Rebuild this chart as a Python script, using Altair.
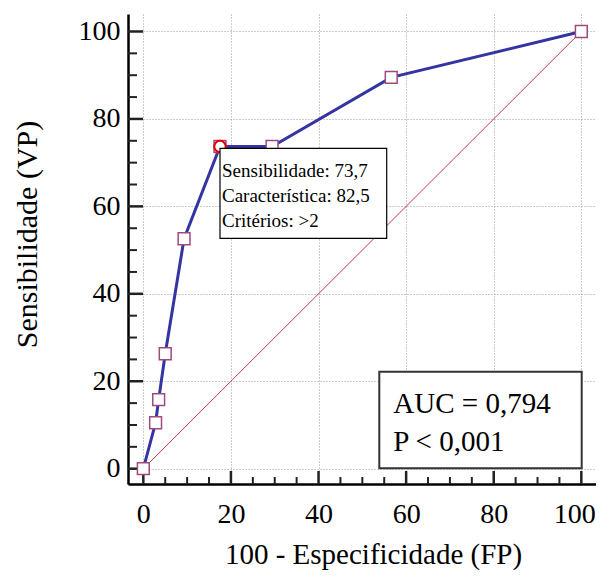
import altair as alt
import pandas as pd

# ---- data ----
fp = [0, 2.8, 3.5, 5.0, 9.3, 17.5, 29.4, 56.6, 100]          # 100 - Especificidade
sens = [0, 10.5, 15.8, 26.3, 52.6, 73.7, 73.7, 89.5, 100]     # Sensibilidade
diag_x = [0, 100]
diag_y = [0, 100]
sel_fp = [17.5]
sel_sens = [73.7]
major_ticks = [0, 20, 40, 60, 80, 100]
minor_ticks = [v for v in range(0, 101, 5) if v % 20 != 0]
info_lines = ["Sensibilidade: 73,7", "Característica: 82,5", "Critérios: >2"]
auc_lines = ["AUC = 0,794", "P < 0,001"]

FONT = "Liberation Serif"
W, H = 468, 470
XDOM = [-3.5, 103.35]
YDOM = [-3.5, 104]

roc = pd.DataFrame({"fp": fp, "sens": sens, "order": list(range(len(fp)))})
diag = pd.DataFrame({"fp": diag_x, "sens": diag_y})
sel = pd.DataFrame({"fp": sel_fp, "sens": sel_sens})
one = pd.DataFrame({"k": [0]})

xs = alt.Scale(domain=XDOM, nice=False, zero=False)
ys = alt.Scale(domain=YDOM, nice=False, zero=False)

xaxis = alt.Axis(values=major_ticks, labelPadding=16,
                 labelOffset={"condition": {"test": "datum.value == 100", "value": -7},
                              "value": 0},
                 title="100 - Especificidade (FP)", titleFontSize=29,
                 titleX=245, titleY=79, titleAnchor="middle", titleAlign="center",
                 titleBaseline="alphabetic")
yaxis = alt.Axis(values=major_ticks, labelPadding=8,
                 title="Sensibilidade (VP)", titleFontSize=30,
                 titleX=-101, titleY=220, titleAngle=-90, titleAlign="center",
                 titleBaseline="middle")

base_axes = alt.Chart(diag).mark_line(strokeWidth=1, color="#c03a52").encode(
    x=alt.X("fp:Q", scale=xs, axis=xaxis),
    y=alt.Y("sens:Q", scale=ys, axis=yaxis),
)

line = alt.Chart(roc).mark_line(strokeWidth=3, color="#3434a2").encode(
    x=alt.X("fp:Q", scale=xs), y=alt.Y("sens:Q", scale=ys), order="order:Q")

pts = alt.Chart(roc).mark_point(shape="square", size=140, filled=True,
                                fill="#ffffff", stroke="#a04a7c",
                                strokeWidth=1.5, opacity=1).encode(
    x=alt.X("fp:Q", scale=xs), y=alt.Y("sens:Q", scale=ys))

circ = alt.Chart(sel).mark_point(shape="circle", size=130, filled=False,
                                 stroke="#e00000", strokeWidth=2,
                                 opacity=1).encode(
    x=alt.X("fp:Q", scale=xs), y=alt.Y("sens:Q", scale=ys))

# inward ticks
tk_x_major = alt.Chart(pd.DataFrame({"v": major_ticks})).mark_rule(
    color="#222222", strokeWidth=2.5).encode(
    x=alt.X("v:Q", scale=xs), y=alt.value(H), y2=alt.value(H - 13))
tk_x_minor = alt.Chart(pd.DataFrame({"v": minor_ticks})).mark_rule(
    color="#222222", strokeWidth=2).encode(
    x=alt.X("v:Q", scale=xs), y=alt.value(H), y2=alt.value(H - 7))
tk_y_major = alt.Chart(pd.DataFrame({"v": major_ticks})).mark_rule(
    color="#222222", strokeWidth=2.5).encode(
    y=alt.Y("v:Q", scale=ys), x=alt.value(0), x2=alt.value(15))
tk_y_minor = alt.Chart(pd.DataFrame({"v": minor_ticks})).mark_rule(
    color="#222222", strokeWidth=2).encode(
    y=alt.Y("v:Q", scale=ys), x=alt.value(0), x2=alt.value(9))

# info box
info_box = alt.Chart(one).mark_rect(fill="#ffffff", stroke="#000000",
                                    strokeWidth=1.2).encode(
    x=alt.value(92), x2=alt.value(258.7), y=alt.value(134.3), y2=alt.value(224.3))
info_y = [162.7, 188.2, 212.7]
info_layers = [
    alt.Chart(one).mark_text(font=FONT, fontSize=19, align="left",
                             baseline="alphabetic", color="#000000",
                             text=t).encode(x=alt.value(94), y=alt.value(yy))
    for t, yy in zip(info_lines, info_y)
]

auc_box = alt.Chart(one).mark_rect(fill="#ffffff", stroke="#333333",
                                   strokeWidth=2).encode(
    x=alt.value(251.3), x2=alt.value(453.7), y=alt.value(357.7), y2=alt.value(454.3))
auc_y = [398.7, 436.7]
auc_layers = [
    alt.Chart(one).mark_text(font=FONT, fontSize=29, align="left",
                             baseline="alphabetic", color="#000000",
                             text=t).encode(x=alt.value(265.3), y=alt.value(yy))
    for t, yy in zip(auc_lines, auc_y)
]

chart = alt.layer(
    base_axes, tk_x_major, tk_x_minor, tk_y_major, tk_y_minor,
    line, pts, circ, info_box, *info_layers, auc_box, *auc_layers
).properties(
    width=W, height=H,
    autosize=alt.AutoSizeParams(type="none"),
    padding={"left": 120, "top": 6, "right": 0, "bottom": 87},
    background="#ffffff",
).configure_view(stroke=None).configure_axis(
    tickSize=0, grid=True, gridDash=[1, 2], gridColor="#999999", gridWidth=1,
    domainColor="#000000", domainWidth=2.5,
    labelFont=FONT, labelFontSize=28, labelColor="#000000",
    titleFont=FONT, titleFontWeight="normal", titleColor="#000000",
)

chart.save("out.html", embed_options={"renderer": "svg", "actions": False})
